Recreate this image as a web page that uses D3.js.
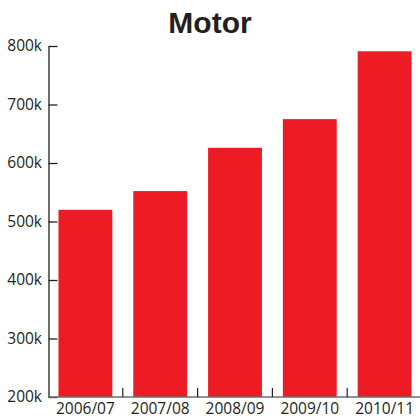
<!DOCTYPE html>
<html>
<head>
<meta charset="utf-8">
<script src="https://cdn.jsdelivr.net/npm/d3@7"></script>
<style>
  body { margin: 0; background: #fff; }
  svg { display: block; }
</style>
</head>
<body>
<svg id="chart" width="420" height="418"></svg>
<script>
// Motor figures by financial year
const categories = ["2006/07", "2007/08", "2008/09", "2009/10", "2010/11"];
const values = [520000, 552000, 626000, 675000, 791000];
const yTicks = [200000, 300000, 400000, 500000, 600000, 700000, 800000];

const svg = d3.select("#chart");
const plotLeft = 48.5, plotRight = 422, plotTop = 46, plotBottom = 397;

const x = d3.scaleBand()
  .domain(categories)
  .range([48, plotRight])
  .paddingInner(0.28)
  .paddingOuter(0.14);

const y = d3.scaleLinear()
  .domain([200000, 800000])
  .range([plotBottom, plotTop]);

// Title
svg.append("text")
  .attr("x", 210)
  .attr("y", 33)
  .attr("text-anchor", "middle")
  .attr("font-family", "'Liberation Sans', Arial, sans-serif")
  .attr("font-weight", "bold")
  .attr("font-size", 30)
  .attr("fill", "#231f20")
  .text("Motor");

// Bars
svg.append("g")
  .selectAll("rect")
  .data(values)
  .join("rect")
  .attr("x", (d, i) => x(categories[i]))
  .attr("width", x.bandwidth())
  .attr("y", d => y(d))
  .attr("height", d => plotBottom - y(d))
  .attr("fill", "#ed1c24");

// Y axis with inward ticks
const yAxis = svg.append("g")
  .attr("transform", `translate(${plotLeft},0)`)
  .call(d3.axisLeft(y)
    .tickValues(yTicks)
    .tickSizeInner(-9)
    .tickSizeOuter(0)
    .tickPadding(6.5)
    .tickFormat(d => (d / 1000) + "k"));
yAxis.select(".domain").attr("stroke", "#231f20").attr("stroke-width", 1.3);
yAxis.selectAll(".tick line").attr("stroke", "#231f20").attr("stroke-width", 1.3);
yAxis.selectAll(".tick text")
  .attr("font-family", "'Open Sans', sans-serif")
  .attr("font-size", 15.5)
  .attr("fill", "#231f20");

// X axis: baseline, labels and separator ticks between bands
const xAxis = svg.append("g")
  .attr("transform", `translate(0,${plotBottom})`)
  .call(d3.axisBottom(x).tickSize(0).tickPadding(6));
xAxis.select(".domain").remove();
xAxis.selectAll(".tick text")
  .attr("font-family", "'Open Sans', sans-serif")
  .attr("font-size", 15.5)
  .attr("fill", "#231f20");

svg.append("line")
  .attr("x1", 48).attr("x2", 420)
  .attr("y1", plotBottom).attr("y2", plotBottom)
  .attr("stroke", "#6d6e71")
  .attr("stroke-width", 1.6);

const step = x.step();
const separators = categories.slice(1).map(c => x(c) - x.paddingInner() * step / 2);
svg.append("g")
  .selectAll("line")
  .data(separators)
  .join("line")
  .attr("x1", d => d).attr("x2", d => d)
  .attr("y1", plotBottom - 9).attr("y2", plotBottom)
  .attr("stroke", "#231f20")
  .attr("stroke-width", 1.2);
</script>
</body>
</html>
